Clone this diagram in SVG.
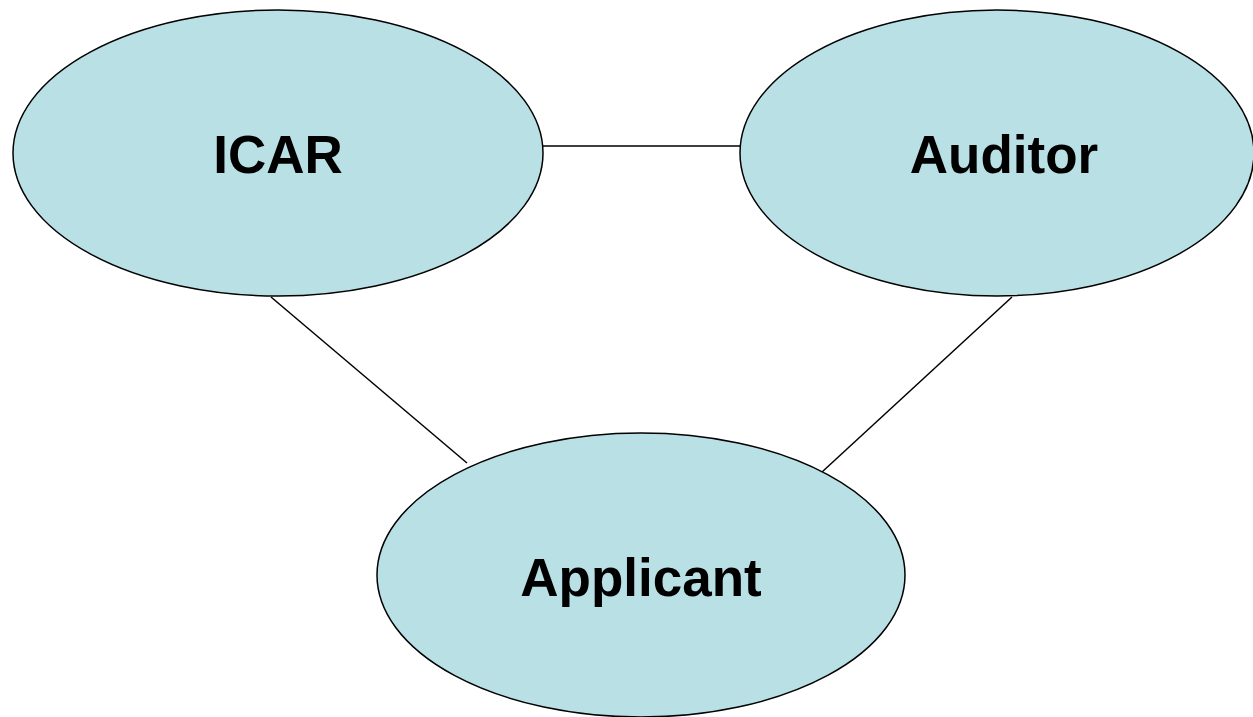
<svg xmlns="http://www.w3.org/2000/svg" width="1253" height="717" viewBox="0 0 1253 717">
<style>
.node{fill:#b9e0e4;stroke:#000;stroke-width:1.5}
.lbl{font-family:"Liberation Sans",Arial,sans-serif;font-weight:bold;font-size:53px;fill:#000;text-anchor:middle}
.edge{stroke:#000;stroke-width:1.5;fill:none}
</style>
<rect width="1253" height="717" fill="#fff"/>
<g id="connectors">
<line class="edge" x1="543" y1="146" x2="740" y2="146"/>
<line class="edge" x1="271" y1="297" x2="467" y2="463"/>
<line class="edge" x1="1012" y1="297" x2="822" y2="472"/>
</g>
<g id="icar">
<ellipse class="node" cx="278" cy="153" rx="265" ry="143"/>
<text class="lbl" x="278" y="173">ICAR</text>
</g>
<g id="auditor">
<ellipse class="node" cx="997" cy="153" rx="257" ry="143"/>
<text class="lbl" x="1004" y="173">Auditor</text>
</g>
<g id="applicant">
<ellipse class="node" cx="641" cy="575" rx="264" ry="142"/>
<text class="lbl" x="641" y="596">Applicant</text>
</g>
</svg>
